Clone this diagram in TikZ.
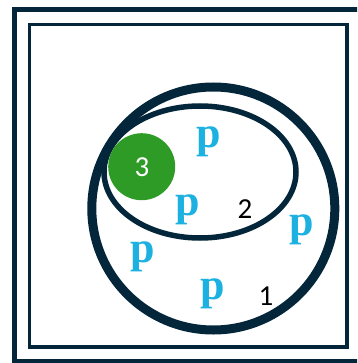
\documentclass[tikz,border=0pt]{standalone}
\usepackage{fontspec}
\setmainfont{Carlito}
\newfontfamily\pfont{Liberation Serif}
\usetikzlibrary{shapes.geometric, positioning}

\definecolor{framenavy}{HTML}{03263A}
\definecolor{setgreen}{HTML}{2E9B27}
\definecolor{pcyan}{HTML}{1DB1E2}

\begin{document}
\begin{tikzpicture}[
        x=1pt, y=-1pt,
        frame/.style={draw=framenavy},
        setline/.style={draw=framenavy, inner sep=0pt, outer sep=0pt},
        pmark/.style={anchor=base, inner sep=0pt, text=pcyan, font=\pfont\bfseries\fontsize{44}{50}\selectfont},
        numlabel/.style={anchor=base, inner sep=0pt, font=\fontsize{29}{34}\selectfont}
    ]
        \useasboundingbox (0,0) rectangle (357,363);
        \clip (0,0) rectangle (357,363);

        % Frames
        \draw[frame, line width=5.5pt] (14.5,9.5) rectangle (380,361.5);
        \draw[frame, line width=3.2pt] (29.5,24.5) rectangle (347,347);

        % Sets
        \node[setline, circle, line width=9pt, minimum size=243pt] (set1) at (213.3,208.5) {};
        \node[setline, ellipse, line width=5.5pt, minimum width=192pt, minimum height=132pt] (set2) at (200,172) {};
        \node[circle, fill=setgreen, inner sep=0pt, minimum size=67pt] (set3) at (141.7,166.7) {};

        % Labels
        \node[numlabel, text=white] (lab3) at (142,176) {3};
        \node[numlabel] (lab2) at (245,218) {2};
        \node[numlabel] (lab1) at (266,305) {1};

        % Points
        \node[pmark] (pa) at (209,147.5) {p};
        \node[pmark] (pb) at (188,215) {p};
        \node[pmark] (pc) at (302,235.5) {p};
        \node[pmark] (pd) at (143,262) {p};
        \node[pmark] (pe) at (213,299.5) {p};

    \end{tikzpicture}
\end{document}
